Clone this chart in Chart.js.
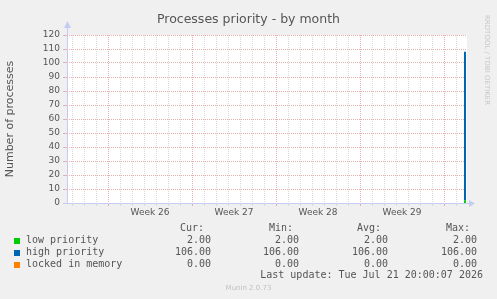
<!DOCTYPE html>
<html>
<head>
<meta charset="utf-8">
<script src="https://cdn.jsdelivr.net/npm/chart.js@4/dist/chart.umd.min.js"></script>
<style>
  html, body { margin: 0; padding: 0; background: #f0f0f0; }
  #wrap { position: relative; width: 497px; height: 299px; overflow: hidden; background: #f0f0f0; }
  canvas { position: absolute; left: 0; top: 0; }
  .t { position: absolute; white-space: pre; line-height: 12px; }
  .mono { font-family: "DejaVu Sans Mono", monospace; font-size: 10px; color: #555; }
  .r { text-align: right; }
  .sq { position: absolute; width: 6px; height: 6px; }
</style>
</head>
<body>
<div id="wrap">
  <canvas id="c" width="497" height="299"></canvas>
  <div id="title" class="t" style="left:0;width:497px;top:11px;text-align:center;font-family:'DejaVu Sans';font-size:12.5px;line-height:16px;color:#555;"></div>
  <div id="rrd" class="t" style="left:482px;top:15px;width:100px;font-family:'DejaVu Sans';font-size:7px;line-height:9px;color:#c8c8c8;transform-origin:0 0;transform:translate(9px,0) rotate(90deg);">RRDTOOL / TOBI OETIKER</div>
  <div id="legend"></div>
  <div id="update" class="t mono r" style="right:14px;top:269px;"></div>
  <div id="munin" class="t" style="left:0;width:497px;top:283px;text-align:center;font-family:'DejaVu Sans';font-size:7px;line-height:10px;color:#c0c0c0;">Munin 2.0.73</div>
</div>
<script>
// ---- data (hours since start of the 400px month window) ----
const chartTitle = 'Processes priority - by month';
const yAxisTitle = 'Number of processes';
const seriesNames = ['low priority', 'high priority', 'locked in memory'];
const seriesColors = ['#00cc00', '#0066b3', '#ff8000'];
const sampleHours = [794, 796, 798];
const lowPriority = [2, 2, 2];
const highPriority = [106, 106, 106];
const lockedInMemory = [0, 0, 0];
const weekLabels = ['Week 26', 'Week 27', 'Week 28', 'Week 29'];
const yTicks = [0, 10, 20, 30, 40, 50, 60, 70, 80, 90, 100, 110, 120];
const legendHeaders = ['Cur:', 'Min:', 'Avg:', 'Max:'];
const statsLow = ['2.00', '2.00', '2.00', '2.00'];
const statsHigh = ['106.00', '106.00', '106.00', '106.00'];
const statsLocked = ['0.00', '0.00', '0.00', '0.00'];
const lastUpdate = 'Last update: Tue Jul 21 20:00:07 2026';

// time axis layout (hours)
const windowHours = 800;
const firstMidnight = 10;
const firstWeekStart = 82;

document.getElementById('title').textContent = chartTitle;
document.getElementById('update').textContent = lastUpdate;

// legend
const legend = document.getElementById('legend');
const colRight = [211, 299, 388, 477];
const headRight = [204, 293, 381, 470];
const rowsTop = [233.5, 245.5, 257.5];
const stats = [statsLow, statsHigh, statsLocked];
legendHeaders.forEach((h, i) => {
  const d = document.createElement('div');
  d.className = 't mono r'; d.style.right = (497 - headRight[i]) + 'px'; d.style.top = '221.5px';
  d.textContent = h; legend.appendChild(d);
});
seriesNames.forEach((n, r) => {
  const s = document.createElement('div');
  s.className = 'sq'; s.style.left = '14px'; s.style.top = Math.round(rowsTop[r] + 4) + 'px';
  s.style.background = seriesColors[r]; legend.appendChild(s);
  const l = document.createElement('div');
  l.className = 't mono'; l.style.left = '26px'; l.style.top = rowsTop[r] + 'px';
  l.textContent = n; legend.appendChild(l);
  stats[r].forEach((v, i) => {
    const d = document.createElement('div');
    d.className = 't mono r'; d.style.right = (497 - colRight[i]) + 'px'; d.style.top = rowsTop[r] + 'px';
    d.textContent = v; legend.appendChild(d);
  });
});

const pts = arr => sampleHours.map((h, i) => ({ x: h, y: arr[i] }));
const GRID_MINOR = '#dadada';
const GRID_MAJOR = '#e6b0b0';
const AXIS = '#c4ccf2';

const munin = {
  id: 'munin',
  beforeDraw(chart) {
    const { ctx, chartArea: a } = chart;
    ctx.save();
    ctx.fillStyle = '#ffffff';
    ctx.fillRect(a.left, a.top, a.right - a.left, a.bottom - a.top);
    ctx.restore();
  },
  afterDraw(chart) {
    const { ctx, chartArea: a } = chart;
    ctx.save();
    ctx.strokeStyle = AXIS; ctx.fillStyle = AXIS; ctx.lineWidth = 1;
    ctx.beginPath();
    ctx.moveTo(a.left + 0.5, a.bottom); ctx.lineTo(a.left + 0.5, a.top - 8);
    ctx.moveTo(a.left - 4, a.bottom + 0.5); ctx.lineTo(a.right + 2, a.bottom + 0.5);
    ctx.stroke();
    ctx.beginPath();
    ctx.moveTo(a.left + 0.5, a.top - 14); ctx.lineTo(a.left - 3, a.top - 7); ctx.lineTo(a.left + 4, a.top - 7); ctx.closePath(); ctx.fill();
    ctx.beginPath();
    ctx.moveTo(a.right + 8, a.bottom + 0.5); ctx.lineTo(a.right + 2, a.bottom - 3); ctx.lineTo(a.right + 2, a.bottom + 4); ctx.closePath(); ctx.fill();
    ctx.restore();
  }
};

const xTickValues = [];
for (let h = firstMidnight; h < windowHours; h += 12) xTickValues.push(h);
const weekIndex = v => (v - firstWeekStart) / 168;

new Chart(document.getElementById('c'), {
  type: 'line',
  data: {
    datasets: [
      { label: seriesNames[0], data: pts(lowPriority), backgroundColor: seriesColors[0], borderColor: 'rgba(0,0,0,0)', borderWidth: 0, fill: 'origin', pointRadius: 0 },
      { label: seriesNames[1], data: pts(highPriority), backgroundColor: seriesColors[1], borderColor: 'rgba(0,0,0,0)', borderWidth: 0, fill: '-1', pointRadius: 0 },
      { label: seriesNames[2], data: pts(lockedInMemory), backgroundColor: seriesColors[2], borderColor: 'rgba(0,0,0,0)', borderWidth: 0, fill: '-1', pointRadius: 0 }
    ]
  },
  options: {
    responsive: false,
    animation: false,
    events: [],
    layout: { padding: { top: 35, right: 30, left: 0, bottom: 0 } },
    plugins: { legend: { display: false }, tooltip: { enabled: false }, title: { display: false } },
    scales: {
      x: {
        type: 'linear', min: 0, max: windowHours,
        afterFit(s) { s.height = 96; },
        afterBuildTicks(s) { s.ticks = xTickValues.map(v => ({ value: v })); },
        ticks: {
          autoSkip: false, maxRotation: 0, padding: 1,
          color: '#555', font: { family: 'DejaVu Sans', size: 9 },
          callback(v) {
            const w = weekIndex(v) - 0.5;
            if (Math.abs(w - Math.round(w)) < 1e-6) { const k = Math.round(w); return weekLabels[k] || ''; }
            return '';
          }
        },
        grid: {
          tickLength: 3, lineWidth: 1,
          color(ctx) {
            const v = ctx.tick.value;
            if (((v - firstMidnight) / 12) % 2 !== 0) return 'rgba(0,0,0,0)';
            const w = weekIndex(v);
            return Math.abs(w - Math.round(w)) < 1e-6 ? GRID_MAJOR : GRID_MINOR;
          },
          tickBorderDash: []
        },
        border: { display: false, dash: [1, 1] }
      },
      y: {
        stacked: true, min: 0, max: 120,
        afterFit(s) { s.width = 67; },
        afterBuildTicks(s) {
          const t = [];
          for (let v = 0; v <= 120; v += 5) t.push({ value: v });
          s.ticks = t;
        },
        ticks: {
          padding: 3, color: '#555', font: { family: 'DejaVu Sans', size: 9 },
          callback(v) { return yTicks.includes(v) ? String(v) : ''; }
        },
        grid: {
          tickLength: 4,
          color(ctx) { return yTicks.includes(ctx.tick.value) ? GRID_MAJOR : GRID_MINOR; },
          tickBorderDash: []
        },
        border: { display: false, dash: [1, 1] },
        title: { display: true, text: yAxisTitle, color: '#555', font: { family: 'DejaVu Sans', size: 11 }, padding: { top: 4, bottom: 0 } }
      }
    }
  },
  plugins: [munin]
});
</script>
</body>
</html>
